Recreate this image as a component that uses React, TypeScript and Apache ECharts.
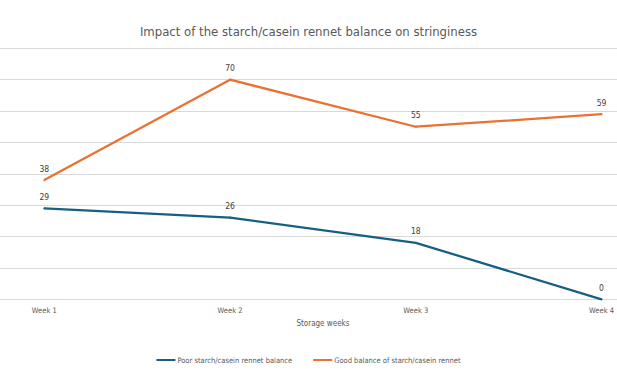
import React, { useEffect, useRef } from "react";
import * as echarts from "echarts";

const categories = ["Week 1", "Week 2", "Week 3", "Week 4"];
const poorBalance = [29, 26, 18, 0];
const goodBalance = [38, 70, 55, 59];
const seriesNames = ["Poor starch/casein rennet balance", "Good balance of starch/casein rennet"];
const titleText = "Impact of the starch/casein rennet balance on stringiness";
const xAxisName = "Storage weeks";

const FONT = '"Liberation Sans Narrow", "DejaVu Sans Condensed", "Roboto", sans-serif';

export default function App() {
  const ref = useRef<HTMLDivElement>(null);
  useEffect(() => {
    if (!ref.current) return;
    const chart = echarts.init(ref.current, null, { renderer: "svg" });
    const top = 48.3;
    const bottom = 381 - 299.3;
    const labelStyle = { show: true, position: "top", distance: 6, fontFamily: FONT, fontSize: 8.5, color: "#404040" };
    chart.setOption({
      animation: false,
      backgroundColor: "#ffffff",
      textStyle: { fontFamily: FONT },
      title: {
        text: titleText,
        left: "center",
        top: 20,
        textStyle: { fontFamily: FONT, fontSize: 13, fontWeight: "normal", color: "#595959" },
      },
      legend: {
        bottom: 12,
        left: "center",
        itemWidth: 19,
        itemHeight: 2,
        itemGap: 21,
        icon: "rect",
        textStyle: { fontFamily: FONT, fontSize: 7.5, color: "#595959", padding: [0, 0, 0, -3] },
        data: seriesNames,
      },
      grid: [
        { left: 44.3, right: 15.3, top, bottom },
        { left: 0, right: 0, top, bottom },
      ],
      xAxis: [
        {
          type: "category",
          gridIndex: 0,
          data: categories,
          boundaryGap: false,
          axisLine: { show: false },
          axisTick: { show: false },
          axisLabel: { fontFamily: FONT, fontSize: 7.5, color: "#595959", margin: 7 },
          name: xAxisName,
          nameLocation: "middle",
          nameGap: 19,
          nameTextStyle: { fontFamily: FONT, fontSize: 8, color: "#595959" },
        },
        { type: "value", gridIndex: 1, min: 0, max: 1, show: false },
      ],
      yAxis: [
        { type: "value", gridIndex: 0, min: 0, max: 80, interval: 10, show: false, splitLine: { show: false } },
        {
          type: "value",
          gridIndex: 1,
          min: 0,
          max: 80,
          interval: 10,
          axisLine: { show: false },
          axisTick: { show: false },
          axisLabel: { show: false },
          splitLine: { show: true, lineStyle: { color: "#D9D9D9", width: 1 } },
        },
      ],
      series: [
        {
          name: seriesNames[0],
          type: "line",
          xAxisIndex: 0,
          yAxisIndex: 0,
          data: poorBalance,
          symbol: "circle",
          symbolSize: 2,
          showSymbol: true,
          color: "#156082",
          itemStyle: { color: "#156082" },
          lineStyle: { width: 2.25, color: "#156082" },
          label: labelStyle,
        },
        {
          name: seriesNames[1],
          type: "line",
          xAxisIndex: 0,
          yAxisIndex: 0,
          data: goodBalance,
          symbol: "circle",
          symbolSize: 2,
          showSymbol: true,
          color: "#E97132",
          itemStyle: { color: "#E97132" },
          lineStyle: { width: 2.25, color: "#E97132" },
          label: labelStyle,
        },
      ],
    });
    return () => chart.dispose();
  }, []);
  return (
    <div
      ref={ref}
      style={{ position: "fixed", left: 0, top: 0, width: 617, height: 381, background: "#fff" }}
    />
  );
}
